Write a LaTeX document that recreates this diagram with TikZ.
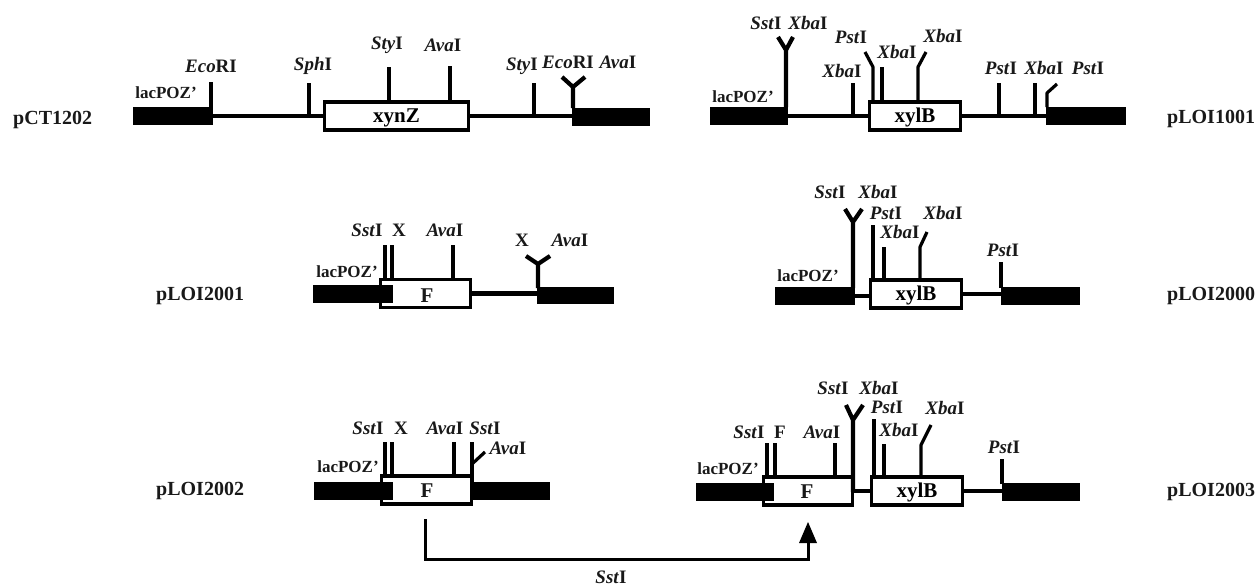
\documentclass[tikz,border=0pt]{standalone}
\usepackage{fontspec}
\setmainfont{Liberation Serif}
\tikzset{
  lab/.style={font=\fontsize{19}{20}\selectfont\bfseries,inner sep=0pt,text=black!90},
  small/.style={font=\fontsize{17}{18}\selectfont\bfseries,inner sep=0pt,text=black!90},
  plasmid/.style={font=\fontsize{20}{21}\selectfont\bfseries,inner sep=0pt,anchor=west,text=black!90},
  genetext/.style={font=\fontsize{21}{22}\selectfont\bfseries,inner sep=0pt,text=black!90},
  bar/.style={fill=black,draw=none,inner sep=0pt},
  gene/.style={fill=white,draw=black,line width=3.2pt,inner sep=0pt,text height=14pt,text depth=2pt,font=\fontsize{21}{22}\selectfont\bfseries},
  dna/.style={line width=4.6pt,black},
  tickmark/.style={line width=3.2pt,black,line join=round},
  ymark/.style={line width=4.2pt,black,line join=round}
}
% tick: name, x, y bottom, y top
\newcommand{\tickm}[4]{\coordinate (#1a) at (#2,#3);\coordinate (#1b) at (#2,#4);\draw[tickmark] (#1a) -- (#1b);}
% bent: name, x, y bottom, y knee, x tip, y tip
\newcommand{\bentm}[6]{\coordinate (#1a) at (#2,#3);\coordinate (#1k) at (#2,#4);\coordinate (#1t) at (#5,#6);\draw[tickmark] (#1a) -- (#1k) -- (#1t);}
% y mark: name, x, y bottom, y junction, x left, x right, y tips
\newcommand{\ym}[7]{\coordinate (#1a) at (#2,#3);\coordinate (#1j) at (#2,#4);\coordinate (#1l) at (#5,#7);\coordinate (#1r) at (#6,#7);\draw[ymark] (#1a) -- (#1j) (#1l) -- (#1j) -- (#1r);}
\newcommand{\en}[2]{\textit{#1}#2}
\begin{document}
\begin{tikzpicture}[x=1pt,y=-1pt]
\useasboundingbox (0,0) rectangle (1258,586);
% ---------- row 1 left
\node[plasmid] (n1) at (13,120) {pCT1202};
\node[bar,minimum width=80pt,minimum height=18pt] (b1a) at (173,116) {};
\node[bar,minimum width=78pt,minimum height=18pt] (b1b) at (611,117) {};
\node[gene,minimum width=144pt,minimum height=28pt] (g1) at (396.5,116) {xynZ};
\draw[dna] (b1a.east) -- (g1.west);
\draw[dna] (g1.east) -- (g1.east -| b1b.west);
\tickm{t1}{211}{108}{82}
\tickm{t2}{309}{117}{83}
\tickm{t3}{389}{101}{67}
\tickm{t4}{450}{101}{66}
\tickm{t5}{534}{117}{83}
\ym{y1}{573}{108}{87}{562}{585}{77}
\node[small] (l1) at (166,93) {lacPOZ'};
\node[lab] (l2) at (211,66) {\en{Eco}{RI}};
\node[lab] (l3) at (313,66) {\en{Sph}{I}};
\node[lab] (l4) at (387,45) {\en{Sty}{I}};
\node[lab] (l5) at (443,45) {\en{Ava}{I}};
\node[lab] (l6) at (522,66) {\en{Sty}{I}};
\node[lab] (l7) at (568,62) {\en{Eco}{RI}};
\node[lab] (l8) at (618,62) {\en{Ava}{I}};
% ---------- row 1 right
\node[plasmid] (n2) at (1167,119) {pLOI1001};
\node[bar,minimum width=78pt,minimum height=18pt] (b2a) at (749,116) {};
\node[bar,minimum width=80pt,minimum height=18pt] (b2b) at (1086,116) {};
\node[gene,minimum width=91pt,minimum height=28pt] (g2) at (915,116) {xylB};
\draw[dna] (b2a.east) -- (g2.west);
\draw[dna] (g2.east) -- (b2b.west);
\ym{y2}{786}{107}{50}{778}{793}{37}
\tickm{t6}{853}{116}{83}
\bentm{t7}{873}{100}{67}{865}{52}
\tickm{t8}{882}{100}{67}
\bentm{t9}{918}{100}{67}{926}{52}
\tickm{t10}{999}{116}{83}
\tickm{t11}{1035}{116}{83}
\bentm{t12}{1047}{107}{93}{1057}{84}
\node[small] (l9) at (743,97) {lacPOZ'};
\node[lab] (l10) at (766,23) {\en{Sst}{I}};
\node[lab] (l11) at (808,23) {\en{Xba}{I}};
\node[lab] (l12) at (851,37) {\en{Pst}{I}};
\node[lab] (l13) at (842,71) {\en{Xba}{I}};
\node[lab] (l14) at (897,52) {\en{Xba}{I}};
\node[lab] (l15) at (943,36) {\en{Xba}{I}};
\node[lab] (l16) at (1001,68) {\en{Pst}{I}};
\node[lab] (l17) at (1044,68) {\en{Xba}{I}};
\node[lab] (l18) at (1088,68) {\en{Pst}{I}};
% ---------- row 2 left
\node[plasmid] (n3) at (156,296) {pLOI2001};
\node[gene,minimum width=90pt,minimum height=28pt] (g3) at (425.5,293.5) {};
\node[bar,minimum width=80pt,minimum height=18pt] (b3a) at (353,294) {};
\node[genetext] (f3) at (427,296) {F};
\node[bar,minimum width=77pt,minimum height=17pt] (b3b) at (575.5,295.5) {};
\draw[dna] (g3.east) -- (g3.east -| b3b.west);
\tickm{t13}{385}{278}{245}
\tickm{t14}{392}{278}{245}
\tickm{t15}{453}{278}{245}
\ym{y3}{538}{288}{264}{526}{550}{256}
\node[small] (l19) at (347,272) {lacPOZ'};
\node[lab] (l20) at (367,230) {\en{Sst}{I}};
\node[lab] (l21) at (399,230) {X};
\node[lab] (l22) at (445,230) {\en{Ava}{I}};
\node[lab] (l23) at (522,240) {X};
\node[lab] (l24) at (570,240) {\en{Ava}{I}};
% ---------- row 2 right
\node[plasmid] (n4) at (1167,296) {pLOI2000};
\node[bar,minimum width=80pt,minimum height=18pt] (b4a) at (815,296) {};
\node[bar,minimum width=79pt,minimum height=18pt] (b4b) at (1040.5,296) {};
\node[gene,minimum width=91pt,minimum height=28pt] (g4) at (916,294) {xylB};
\draw[dna] (b4a.east) -- (b4a.east -| g4.west);
\draw[dna] (g4.east) -- (g4.east -| b4b.west);
\ym{y4}{853}{288}{222}{845}{862}{209}
\tickm{t16}{873}{279}{225}
\tickm{t17}{884}{279}{247}
\bentm{t18}{920}{279}{247}{927}{232}
\tickm{t19}{1001}{288}{262}
\node[small] (l25) at (808,276) {lacPOZ'};
\node[lab] (l26) at (830,192) {\en{Sst}{I}};
\node[lab] (l27) at (878,192) {\en{Xba}{I}};
\node[lab] (l28) at (886,213) {\en{Pst}{I}};
\node[lab] (l29) at (900,232) {\en{Xba}{I}};
\node[lab] (l30) at (943,213) {\en{Xba}{I}};
\node[lab] (l31) at (1003,250) {\en{Pst}{I}};
% ---------- row 3 left
\node[plasmid] (n5) at (156,491) {pLOI2002};
\node[gene,minimum width=90pt,minimum height=28pt] (g5) at (426.5,490) {};
\node[bar,minimum width=79pt,minimum height=18pt] (b5a) at (353.5,490.5) {};
\node[genetext] (f5) at (427,491) {F};
\node[bar,minimum width=77pt,minimum height=18pt] (b5b) at (511.5,490.5) {};
\tickm{t20}{385}{475}{442}
\tickm{t21}{392}{475}{442}
\tickm{t22}{454}{475}{442}
\tickm{t23}{472}{482}{442}
\coordinate (t23s) at (472,464);
\coordinate (t23e) at (485,452);
\draw[tickmark] (t23s) -- (t23e);
\node[small] (l32) at (348,467) {lacPOZ'};
\node[lab] (l33) at (368,428) {\en{Sst}{I}};
\node[lab] (l34) at (401,428) {X};
\node[lab] (l35) at (445,428) {\en{Ava}{I}};
\node[lab] (l36) at (485,428) {\en{Sst}{I}};
\node[lab] (l37) at (508,448) {\en{Ava}{I}};
% ---------- row 3 right
\node[plasmid] (n6) at (1167,492) {pLOI2003};
\node[gene,minimum width=89pt,minimum height=28pt] (g6) at (808,491) {};
\node[bar,minimum width=78pt,minimum height=18pt] (b6a) at (735,492) {};
\node[genetext] (f6) at (807,492) {F};
\node[gene,minimum width=91pt,minimum height=28pt] (g7) at (917,491) {xylB};
\node[bar,minimum width=78pt,minimum height=18pt] (b6b) at (1041,492) {};
\draw[dna] (g6.east) -- (g7.west);
\draw[dna] (g7.east) -- (g7.east -| b6b.west);
\tickm{t24}{767}{476}{443}
\tickm{t25}{775}{476}{443}
\tickm{t26}{835}{476}{443}
\ym{y5}{853}{492}{420}{846}{863}{405}
\tickm{t27}{874}{476}{419}
\tickm{t28}{884}{476}{444}
\bentm{t29}{921}{476}{445}{931}{425}
\tickm{t30}{1002}{484}{459}
\node[small] (l38) at (728,469) {lacPOZ'};
\node[lab] (l39) at (749,432) {\en{Sst}{I}};
\node[lab] (l40) at (780,432) {F};
\node[lab] (l41) at (822,432) {\en{Ava}{I}};
\node[lab] (l42) at (833,388) {\en{Sst}{I}};
\node[lab] (l43) at (879,388) {\en{Xba}{I}};
\node[lab] (l44) at (887,407) {\en{Pst}{I}};
\node[lab] (l45) at (899,430) {\en{Xba}{I}};
\node[lab] (l46) at (945,408) {\en{Xba}{I}};
\node[lab] (l47) at (1004,447) {\en{Pst}{I}};
% ---------- transfer arrow
\coordinate (as) at (425,519);
\coordinate (ac) at (425,559);
\coordinate (ad) at (808,559);
\coordinate (at) at (808,543);
\draw[line width=3pt,line join=miter] (as) -- (ac) -- (ad) -- (at);
\coordinate (ah1) at (799,543);
\coordinate (ah2) at (817,543);
\coordinate (ah3) at (808,522);
\fill[black] (ah1) -- (ah2) -- (ah3) -- cycle;
\node[lab] (l48) at (611,577) {\en{Sst}{I}};
\end{tikzpicture}
\end{document}
